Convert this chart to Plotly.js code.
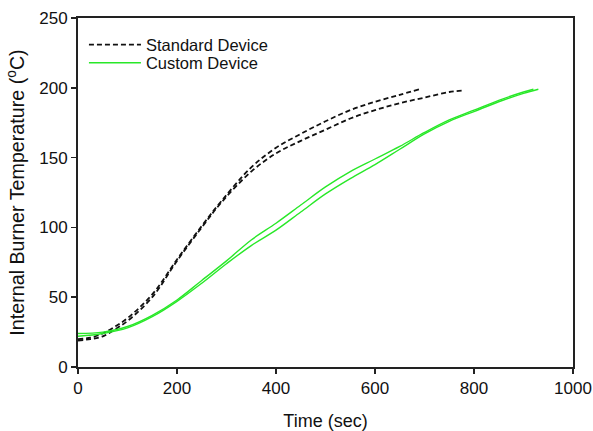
<!DOCTYPE html>
<html>
<head>
<meta charset="utf-8">
<script src="https://cdn.plot.ly/plotly-3.0.1.min.js"></script>
<style>html,body{margin:0;padding:0;background:#fff;}#chart{width:593px;height:431px;}</style>
</head>
<body>
<div id="chart"></div>
<script>
// Standard device runs (time in sec, temperature in °C)
const stdTimeA = [0, 25, 50, 75, 100, 150, 200, 250, 290, 350, 400, 450, 500, 550, 600, 650, 690];
const stdTempA = [20, 21, 24, 29, 35, 52, 77, 101, 119, 143, 157, 167, 176, 184, 190, 195, 199];
const stdTimeB = [0, 25, 50, 75, 100, 150, 200, 250, 290, 350, 400, 450, 500, 550, 600, 650, 700, 750, 775];
const stdTempB = [19, 20, 22, 27, 33, 50, 76, 100, 118, 140, 153, 162, 170, 178, 184, 189, 193, 197, 198];
// Custom device runs
const cusTimeA = [0, 50, 100, 150, 200, 250, 300, 350, 400, 450, 500, 550, 600, 650, 700, 750, 800, 850, 900, 920];
const cusTempA = [24, 25, 29, 37, 48, 62, 76, 91, 103, 116, 129, 140, 149, 158, 168, 177, 184, 191, 197, 199];
const cusTimeB = [0, 50, 100, 150, 200, 250, 300, 350, 400, 450, 500, 550, 600, 650, 700, 750, 800, 850, 900, 930];
const cusTempB = [22, 24, 28, 36, 47, 60, 74, 87, 98, 111, 124, 135, 145, 156, 167, 176, 183, 190, 196, 199];

const xTicks = [0, 200, 400, 600, 800, 1000];
const yTicks = [0, 50, 100, 150, 200, 250];

const green = 'rgb(40,232,40)';
const dashPattern = '5px,3px';
const traces = [
  {x: stdTimeA, y: stdTempA, mode: 'lines', name: 'Standard Device', legend: 'legend', line: {color: '#111', width: 1.8, dash: dashPattern, shape: 'spline'}},
  {x: stdTimeB, y: stdTempB, mode: 'lines', name: 'Standard Device', showlegend: false, line: {color: '#111', width: 1.8, dash: dashPattern, shape: 'spline'}},
  {x: cusTimeA, y: cusTempA, mode: 'lines', name: 'Custom Device', legend: 'legend2', line: {color: green, width: 1.4, shape: 'spline'}},
  {x: cusTimeB, y: cusTempB, mode: 'lines', name: 'Custom Device', showlegend: false, line: {color: green, width: 1.4, shape: 'spline'}}
];

const legendStyle = {xanchor: 'left', yanchor: 'top', bgcolor: 'rgba(0,0,0,0)', font: {size: 16.5, color: '#111'}, itemwidth: 52};

const layout = {
  width: 593, height: 431,
  margin: {l: 78, r: 20, t: 18, b: 64},
  paper_bgcolor: '#fff', plot_bgcolor: '#fff',
  font: {family: 'Liberation Sans, Arial, sans-serif', size: 17, color: '#111'},
  showlegend: true,
  legend: Object.assign({x: 0.012, y: 0.973}, legendStyle),
  legend2: Object.assign({x: 0.012, y: 0.921}, legendStyle),
  xaxis: {
    range: [0, 1000], tickvals: xTicks, ticktext: xTicks.map(String),
    showgrid: false, zeroline: false, showline: true, mirror: true, linecolor: '#222', linewidth: 2,
    ticks: 'outside', ticklen: 5, tickcolor: '#222', tickwidth: 1.5,
    tickfont: {size: 17},
    title: {text: 'Time (sec)', font: {size: 18}, standoff: 18}
  },
  yaxis: {
    range: [0, 250], tickvals: yTicks, ticktext: yTicks.map(String),
    showgrid: false, zeroline: false, showline: true, mirror: true, linecolor: '#222', linewidth: 2,
    ticks: 'outside', ticklen: 5, tickcolor: '#222', tickwidth: 1.5,
    tickfont: {size: 17},
    title: {text: 'Internal Burner Temperature (<sup>o</sup>C)', font: {size: 19.7}, standoff: 9}
  }
};

Plotly.newPlot('chart', traces, layout, {displayModeBar: false, staticPlot: true});
</script>
</body>
</html>
